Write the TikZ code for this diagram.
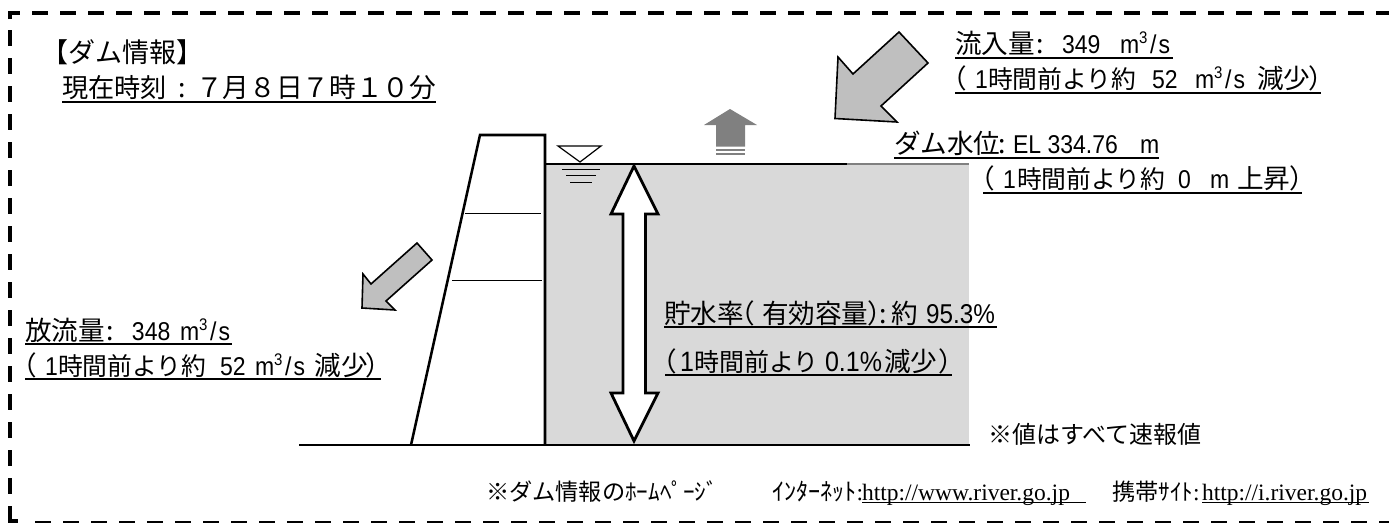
\documentclass[tikz,border=0pt]{standalone}
\usepackage{graphicx}
\usepackage{fontspec}
\setmainfont{Liberation Sans}
\newfontfamily\jpfam{Noto Sans CJK JP}
\newfontfamily\serfam{Liberation Serif}
\newdimen\pu \pu=.75pt
\newcommand\jsz[1]{\fontsize{#1\pu}{#1\pu}\selectfont}
% underlined line of fixed width with pieces at absolute offsets
\newcommand\ulbox[3]{\makebox[#1\pu][l]{\rlap{\rule[-#3\pu]{#1\pu}{1.5\pu}}#2}}
\newcommand\pc[2]{\makebox[0pt][l]{\hspace*{#1\pu}#2}}
\newcommand\J[2][26.6]{{\jpfam\jsz{#1}#2}}
\newcommand\Lt[2][23]{\scalebox{1}[1.12]{\jsz{#1}#2}}
\newcommand\Cube{\textsuperscript{\jsz{15}3}}
\newcommand\Unit{m\Cube\kern2\pu/\kern2\pu s}
\tikzset{
  x=.75pt,y=-.75pt,
  wall/.style={line width=1.9pt,draw=black},
  level/.style={line width=1.6pt,draw=black},
  thin rule/.style={line width=.9pt,draw=black},
  bigarrow/.style={draw=black,line width=1.2pt,fill=black!25,line join=miter},
  whitearrow/.style={draw=black,line width=2.1pt,fill=white,line join=miter},
  border/.style={draw=black,line width=3.4pt,dash pattern=on 12pt off 9pt},
  txt/.style={anchor=base west,inner sep=0pt,outer sep=0pt},
}
\begin{document}
\begin{tikzpicture}
\useasboundingbox (0,0) rectangle (1389,522);
\clip (0,0) rectangle (1389,522);
\fill[white] (0,0) rectangle (1389,522);
% border
\draw[border] (10,19) -- (10,13) -- (1400,13);
\draw[border] (10,30) -- (10,506);
\draw[draw=black,line width=3.4pt] (10,506) -- (10,521) -- (18,521);
\draw[draw=black,line width=2.6pt,dash pattern=on 12pt off 9pt] (35,523) -- (1400,523);
% water
\fill[black!15] (545,164) rectangle (969,445);
% dam
\draw[level] (299,445) -- (545,445);
\draw[level] (545,445) -- (970,445);
\draw[wall,line join=miter] (411,445) -- (480,135) -- (545,135) -- (545,445);
\draw[level] (545,164) -- (847,164);
\draw[draw=black!50,line width=.9pt] (847,164) -- (969,164);
\draw[thin rule] (465,213.7) -- (541,213.7);
\draw[thin rule] (452,280.7) -- (542,280.7);
% level mark
\draw[draw=black,line width=.9pt,fill=white,line join=miter] (558,146) -- (601,146) -- (580,162) -- cycle;
\draw[thin rule] (562,169.5) -- (600,169.5);
\draw[thin rule] (566,175.5) -- (596,175.5);
\draw[thin rule] (570,182.5) -- (592,182.5);
% rise arrow
\fill[black!50] (730,109) -- (757,125) -- (745,125) -- (745,146.5) -- (716,146.5) -- (716,125) -- (704,125) -- cycle;
\fill[black!50] (716,149) rectangle (745,151);
\fill[black!50] (716,152.5) rectangle (745,154.5);
% inflow, outflow
\draw[bigarrow] (835,118.5) -- (838,57) -- (853,74) -- (899,32) -- (928,63) -- (881,106) -- (897,122) -- cycle;
\draw[bigarrow] (362,308) -- (363,274) -- (371,284) -- (417,243) -- (432,260) -- (386,301) -- (395,310) -- cycle;
% double arrow
\draw[whitearrow] (634,166) -- (658,214) -- (645.5,214) -- (645.5,393) -- (658,393) -- (634,441) -- (611,393) -- (623,393) -- (623,214) -- (611,214) -- cycle;
% texts
\node[txt] (title) at (41,62) {\J[27]{【ダム情報】}};
\node[txt] (time) at (62,97) {\ulbox{374}{\pc{0}{\J[26.2]{現在時刻}}\pc{116}{\J{:}}\pc{134}{\J[26.7]{７月８日７時１０分}}}{5.5}};
\node[txt] (in1) at (955,53) {\ulbox{218}{\pc{0}{\J{流入量}}\pc{82}{\J{:}}\pc{107}{\Lt{349}}\pc{165}{\Lt{\Unit}}}{5.5}};
\node[txt] (in2) at (955,88) {\ulbox{366}{\pc{-15}{\J{（}}\pc{20}{\Lt{1}}\pc{33}{\J[24.8]{時間前より約}}\pc{197}{\Lt{52}}\pc{240}{\Lt{\Unit}}\pc{302}{\J{減少}}\pc{353}{\J{）}}}{5.5}};
\node[txt] (lv1) at (894,153) {\ulbox{265}{\pc{0}{\J{ダム水位}}\pc{104}{\J{:}}\pc{119}{\Lt{EL 334.76}}\pc{246}{\Lt{m}}}{5.5}};
\node[txt] (lv2) at (983,188) {\ulbox{319}{\pc{-15}{\J{（}}\pc{20}{\Lt{1}}\pc{34}{\J[24.8]{時間前より約}}\pc{195}{\Lt{0}}\pc{227}{\Lt{m}}\pc{254}{\J{上昇}}\pc{306}{\J{）}}}{5.5}};
\node[txt] (out1) at (25,340) {\ulbox{207}{\pc{0}{\J{放流量}}\pc{82}{\J{:}}\pc{107}{\Lt{348}}\pc{155}{\Lt{\Unit}}}{4.5}};
\node[txt] (out2) at (25,375) {\ulbox{356}{\pc{-15}{\J{（}}\pc{20}{\Lt{1}}\pc{33}{\J[24.8]{時間前より約}}\pc{195}{\Lt{52}}\pc{230}{\Lt{\Unit}}\pc{290}{\J{減少}}\pc{340}{\J{）}}}{4.5}};
\node[txt] (sto1) at (664,323) {\ulbox{333}{\pc{0}{\J{貯水率}}\pc{64}{\J{（}}\pc{98}{\J{有効容量}}\pc{203}{\J{）}}\pc{215}{\J{:}}\pc{228}{\J{約}}\pc{262}{\Lt[24.3]{95.3\%}}}{4.5}};
\node[txt] (sto2) at (665,371) {\ulbox{287}{\pc{-15}{\J{（}}\pc{15}{\Lt[25]{1}}\pc{29}{\J[25]{時間前より}}\pc{160}{\Lt[25]{0.1\%}}\pc{219}{\J{減少}}\pc{274}{\J{）}}}{4.5}};
\node[txt] (note) at (988,443) {\J[24]{※値はすべて速報値}};
\node[txt] (home) at (486,500) {\J[23.2]{※ダム情報のﾎｰﾑﾍﾟｰｼﾞ}};
\node[txt] (net) at (772,500) {\J[24.2]{ｲﾝﾀｰﾈｯﾄ}{\serfam\jsz{23.5}:}};
\node[txt] (url1) at (862,500) {\makebox[224\pu][l]{\rlap{\rule[-3\pu]{224\pu}{.9\pu}}{\serfam\jsz{23.5}http://www.river.go.jp}}};
\node[txt] (mob) at (1112,500) {\J[23.2]{携帯ｻｲﾄ}{\serfam\jsz{23.5}:}};
\node[txt] (url2) at (1202,500) {\makebox[167\pu][l]{\rlap{\rule[-3\pu]{167\pu}{.9\pu}}{\serfam\jsz{23.5}http://i.river.go.jp}}};
\end{tikzpicture}
\end{document}
